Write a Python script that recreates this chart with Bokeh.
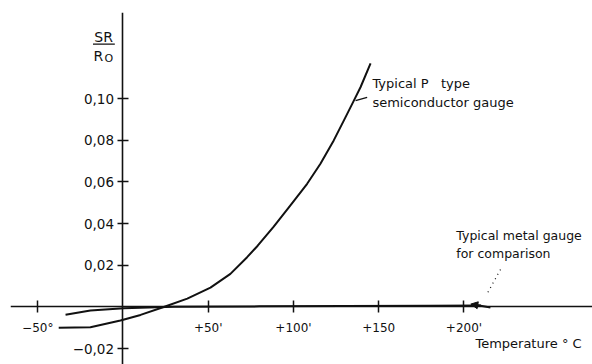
from bokeh.plotting import figure
from bokeh.models import Range1d, FixedTicker, Arrow, NormalHead
from bokeh.core.properties import value
from bokeh.embed import file_html
from bokeh.resources import INLINE

# ---- data ----
ptype_temp = [-37.7, -19.1, -1.5, 10.3, 23.9, 37.7, 51.3, 63.0, 72.8, 79.0, 88.4, 98.2,
              108.0, 115.8, 123.6, 129.5, 135.4, 139.3, 145.2]
ptype_val = [-0.0100, -0.0097, -0.0065, -0.0038, 0.0, 0.0040, 0.0093, 0.0159, 0.0239,
             0.0294, 0.0385, 0.0487, 0.0591, 0.0687, 0.0799, 0.0894, 0.0990, 0.1054, 0.1169]

metal_temp = [-33.7, -19.1, 0.5, 30, 80, 130, 180, 210]
metal_val = [-0.0037, -0.0017, -0.0006, 0.0001, 0.0003, 0.0005, 0.0006, 0.0007]

x_ticks = [-50, 50, 100, 150, 200]
x_tick_labels = ["\u221250\u00b0", "+50'", "+100'", "+150", "+200'"]
y_ticks = [-0.02, 0.02, 0.04, 0.06, 0.08, 0.10]
y_tick_labels = ["\u22120,02", "0,02", "0,04", "0,06", "0,08", "0,10"]

FONT = "DejaVu Sans"
INK = "#111111"

p = figure(width=592, height=364, output_backend="svg", toolbar_location=None,
           x_range=Range1d(-65.98, 275.37), y_range=Range1d(-0.02758, 0.14125),
           min_border_left=10, min_border_top=12, min_border_right=0, min_border_bottom=0)
p.outline_line_color = None
p.xgrid.visible = False
p.ygrid.visible = False
p.background_fill_color = "white"
p.border_fill_color = "white"

for ax in (p.xaxis[0], p.yaxis[0]):
    ax.fixed_location = 0
    ax.axis_line_color = INK
    ax.axis_line_width = 1.6
    ax.major_tick_line_color = INK
    ax.major_tick_line_width = 1.5
    ax.minor_tick_line_color = None
    ax.major_label_text_font = FONT
    ax.major_label_text_color = INK

p.xaxis.ticker = FixedTicker(ticks=x_ticks)
p.xaxis.major_label_overrides = {t: l for t, l in zip(x_ticks, x_tick_labels)}
p.xaxis.major_tick_in = 6
p.xaxis.major_tick_out = 6
p.xaxis.major_label_standoff = 8
p.xaxis.major_label_text_font_size = "12px"

p.yaxis.ticker = FixedTicker(ticks=y_ticks)
p.yaxis.major_label_overrides = {t: l for t, l in zip(y_ticks, y_tick_labels)}
p.yaxis.major_tick_in = 6
p.yaxis.major_tick_out = 5
p.yaxis.major_label_standoff = 4
p.yaxis.major_label_text_font_size = "13.5px"

# curves
p.line(ptype_temp, ptype_val, line_color=INK, line_width=2, line_join="round")
p.line(metal_temp, metal_val, line_color=INK, line_width=2, line_join="round")

# y-axis quantity label  SR / R0
p.text(x=[-11.4], y=[0.1293], text=["SR"], text_font=value(FONT), text_font_size="14px",
       text_align="center", text_baseline="middle", text_color=INK)
p.segment(x0=[-17.6], y0=[0.1261], x1=[-4.8], y1=[0.1261], line_color=INK, line_width=1.3)
p.text(x=[-14.4], y=[0.1206], text=["R"], text_font=value(FONT), text_font_size="14px",
       text_align="center", text_baseline="middle", text_color=INK)
p.text(x=[-8.3], y=[0.1190], text=["O"], text_font=value(FONT), text_font_size="11px",
       text_align="center", text_baseline="middle", text_color=INK)

# annotations
p.text(x=[146.3, 146.3], y=[0.1071, 0.0982],
       text=["Typical P\u00a0\u00a0\u00a0type", "semiconductor gauge"],
       text_font=value(FONT), text_font_size="13px", text_align="left",
       text_baseline="middle", text_color=INK)
p.segment(x0=[136.4], y0=[0.0990], x1=[143.2], y1=[0.1006], line_color=INK, line_width=1.3)

p.text(x=[195.5, 195.5], y=[0.0343, 0.0258], text=["Typical metal gauge", "for comparison"],
       text_font=value(FONT), text_font_size="12.5px", text_align="left",
       text_baseline="middle", text_color=INK)
p.segment(x0=[221.4], y0=[0.0180], x1=[214.0], y1=[0.0070], line_color=INK,
          line_width=1.2, line_dash="1 4")
p.add_layout(Arrow(end=NormalHead(size=7, fill_color=INK, line_color=INK),
                   x_start=215.5, y_start=-0.0002, x_end=204.0, y_end=0.0014,
                   line_color=INK, line_width=2))

p.text(x=[206.7], y=[-0.0177], text=["Temperature \u00b0 C"], text_font=value(FONT),
       text_font_size="13px", text_align="left", text_baseline="middle", text_color=INK)

open("out.html", "w").write(file_html(p, INLINE))
